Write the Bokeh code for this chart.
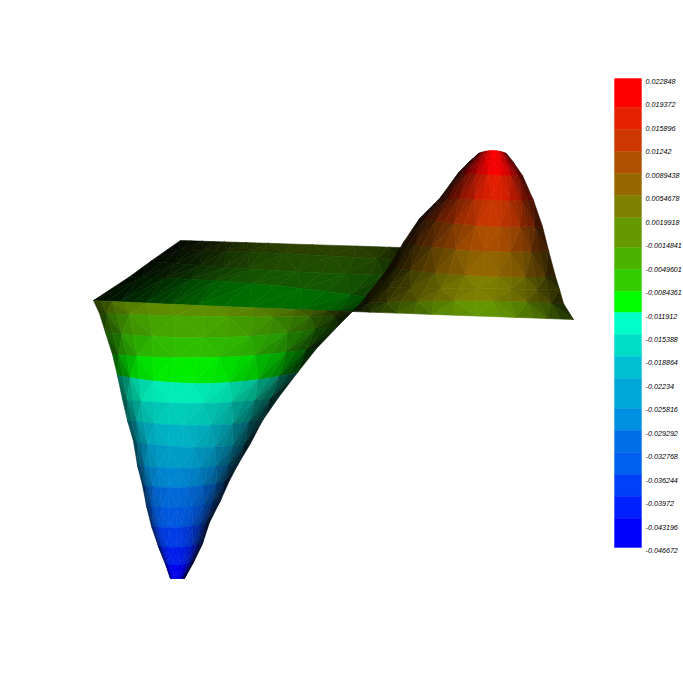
from bokeh.plotting import figure
from bokeh.models import Range1d
from bokeh.core.properties import value
from bokeh.embed import file_html
from bokeh.resources import INLINE

tick_labels = ["0.022848", "0.019372", "0.015896", "0.01242", "0.0089438", "0.0054678", "0.0019918",
               "-0.0014841", "-0.0049601", "-0.0084361", "-0.011912", "-0.015388", "-0.018864", "-0.02234",
               "-0.025816", "-0.029292", "-0.032768", "-0.036244", "-0.03972", "-0.043196", "-0.046672"]
band_edges = [0.022848, 0.018549, 0.015288, 0.012027, 0.008766, 0.005505, 0.002244, -0.002203, -0.005464,
              -0.008725, -0.011838, -0.015099, -0.018360, -0.021621, -0.026068, -0.029329, -0.032590,
              -0.035851, -0.039112, -0.042373, -0.046672]
band_colors = [(255, 0, 0), (230, 32, 0), (204, 56, 0), (176, 80, 0), (150, 104, 0), (128, 128, 0), (102, 153, 0),
               (76, 178, 0), (51, 204, 0), (0, 255, 0), (0, 255, 200), (0, 220, 200), (0, 192, 212), (0, 168, 216),
               (0, 144, 224), (0, 112, 232), (0, 96, 240), (0, 64, 248), (0, 32, 255), (0, 0, 255)]

# Surface: each row is one contour line (left x, left y, middle y, right x, right y)
back_rows = [(180, 240, 243.5, 400, 247), (167, 249, 253, 400, 260), (150, 261, 270, 395, 275),
             (128, 277, 283, 375, 298), (93, 300, 306, 352, 311)]
back_bands = [6, 7, 8, 9]
back_t = [0, .05, .1, .15, .2, .25, .3, .35, .4, .5, .6, .7, .8, .9, .95, 1]
back_shade = [.05, .08, .12, .16, .2, .25, .3, .33, .38, .42, .43, .43, .42, .38, .3, .22]

right_rows = [(352, 311, 315, 573, 319), (360, 303, 300, 563, 303), (373, 287, 288, 559, 289), (388, 267, 275, 555, 276),
              (403, 242, 250, 548, 250), (419, 218, 225, 542, 226), (440, 197, 199, 533, 200),
              (458, 172, 174, 522, 175), (468, 162, 161, 513, 162), (478, 153, 150, 506, 153)]
right_bands = [6, 5, 5, 4, 3, 2, 1, 0, 0]
right_t = [0, .04, .08, .13, .2, .28, .36, .46, .56, .66, .74, .82, .88, .94, 1]
right_shade = [.1, .2, .3, .42, .55, .68, .8, .92, 1, .95, .88, .75, .6, .45, .25]

left_rows = [(93, 300, 306, 352, 311), (99, 313, 316, 347, 316), (105, 332, 337, 338, 325), (112, 354, 357, 316, 348),
             (117, 375, 383, 297, 372), (122, 399, 403, 278, 397), (127, 420, 425, 262, 420), (133, 441, 447, 250, 443),
             (137, 465, 468, 238, 463), (142, 485, 487, 229, 480), (146, 505, 507, 220, 500), (151, 526, 527, 209, 522),
             (158, 546, 547, 202, 543), (165, 564, 565, 193, 562), (170, 578, 578, 184, 578)]
left_bands = [6, 7, 8, 9, 10, 11, 12, 13, 14, 15, 16, 17, 18, 19]
left_t = [0, .03, .07, .12, .2, .3, .42, .52, .62, .7, .78, .85, .9, .95, 1]
left_shade = [.35, .5, .68, .82, .9, .93, .93, .9, .85, .78, .68, .55, .42, .28, .12]


def mesh(rows, bands, ts, shades):
    xs, ys, colors = [], [], []
    def pt(row, t):
        xl, yl, ym, xr, yr = row
        y = yl * (1 - t) * (1 - 2 * t) + 4 * ym * t * (1 - t) + yr * t * (2 * t - 1)
        return xl + (xr - xl) * t, y
    for k, band in enumerate(bands):
        lo, hi = rows[k], rows[k + 1]
        for j in range(len(ts) - 1):
            a = pt(lo, ts[j]); b = pt(lo, ts[j + 1]); c = pt(hi, ts[j + 1]); d = pt(hi, ts[j])
            mid = (shades[j] + shades[j + 1]) / 2
            gap = (shades[j + 1] - shades[j]) / 4
            if (j + k) % 2:
                tris = [((a, b, d), mid - gap), ((b, c, d), mid + gap)]
            else:
                tris = [((a, b, c), mid + gap), ((a, c, d), mid - gap)]
            for tri, s in tris:
                xs.append([q[0] for q in tri]); ys.append([q[1] for q in tri])
                r, g, bl = band_colors[band]
                colors.append("#%02x%02x%02x" % (int(r * s), int(g * s), int(bl * s)))
    return xs, ys, colors


per_px = 0.06952 / 469
p = figure(width=683, height=684, output_backend="svg", toolbar_location=None,
           x_range=Range1d(0, 683), y_range=Range1d(684, 0), min_border=0)
p.axis.visible = False
p.grid.visible = False
p.outline_line_color = None
p.extra_y_ranges["value"] = Range1d(start=0.022848 - (684 - 78) * per_px, end=0.022848 + 78 * per_px)

for rows, bands, ts, shades in [(back_rows, back_bands, back_t, back_shade),
                                (right_rows, right_bands, right_t, right_shade),
                                (left_rows, left_bands, left_t, left_shade)]:
    xs, ys, colors = mesh(rows, bands, ts, shades)
    p.patches(xs, ys, fill_color=colors, line_color=colors, line_width=0.6)

hexes = ["#%02x%02x%02x" % c for c in band_colors]
p.quad(left=614, right=641, top=band_edges[:-1], bottom=band_edges[1:], fill_color=hexes, line_color=hexes,
       line_width=0.4, y_range_name="value")
p.text(x=645, y=[float(t) for t in tick_labels], text=tick_labels, y_range_name="value",
       text_font=value("Liberation Sans"), text_font_style="italic", text_font_size="7.2px",
       text_baseline="middle", text_color="black", y_offset=3)

open("out.html", "w").write(file_html(p, INLINE))
